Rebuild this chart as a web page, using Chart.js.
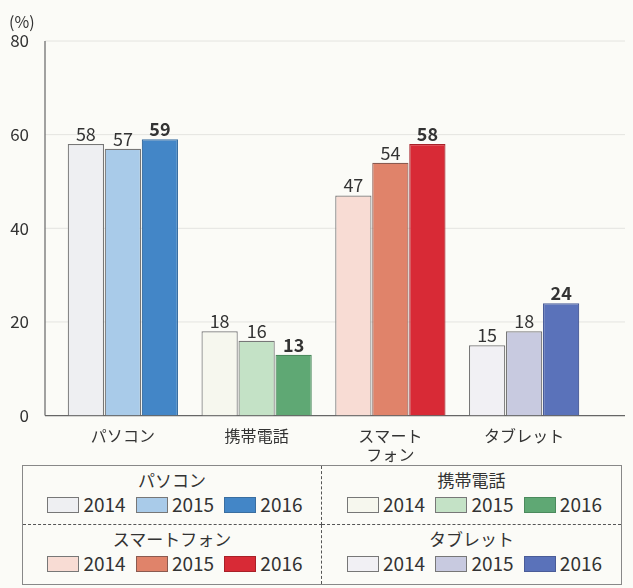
<!DOCTYPE html>
<html>
<head>
<meta charset="utf-8">
<script src="https://cdn.jsdelivr.net/npm/chart.js@4"></script>
<style>
  body { margin: 0; background: #fbfbf7; font-family: "Noto Sans CJK JP", sans-serif; color: #333; }
  #wrap { position: relative; width: 633px; height: 468px; }
  #unit { position: absolute; left: 9px; top: 9px; font-size: 16px; }
  #legend { position: absolute; left: 22px; top: 465px; width: 600px; height: 120px;
    border: 1.5px solid #888; box-sizing: border-box; display: grid;
    grid-template-columns: 1fr 1fr; grid-template-rows: 1fr 1fr; background: #fbfbf7; }
  .cell { text-align: center; padding-top: 2px; }
  .cell.l { border-right: 1.5px dashed #555; }
  .cell.t { border-bottom: 1.5px dashed #555; }
  .ttl { font-size: 17px; line-height: 23px; }
  .row { font-size: 19px; line-height: 25px; white-space: nowrap; }
  .sw { display: inline-block; width: 30px; height: 14px; border: 1px solid #777;
    vertical-align: -1px; margin: 0 4px 0 6px; }
</style>
</head>
<body>
<div id="wrap">
  <div id="unit">(%)</div>
  <canvas id="chart" width="633" height="468"></canvas>
</div>
<div id="legend"></div>
<script>
const categories = [["パソコン"], ["携帯電話"], ["スマート", "フォン"], ["タブレット"]];
const groupNames = ["パソコン", "携帯電話", "スマートフォン", "タブレット"];
const years = ["2014", "2015", "2016"];
const v2014 = [58, 18, 47, 15];
const v2015 = [57, 16, 54, 18];
const v2016 = [59, 13, 58, 24];
const yTicks = [0, 20, 40, 60, 80];

// colours per category, index = year
const colors = [
  ["#eeeff2", "#a9cbe9", "#4386c7"],
  ["#f6f7ee", "#c4e2c6", "#5fa874"],
  ["#f8dcd4", "#e0836a", "#d82a36"],
  ["#f1f0f4", "#c8cae0", "#5a72ba"],
];
const borders = [
  ["#777", "#777", "#3a6ea0"],
  ["#777", "#777", "#4b8a5d"],
  ["#777", "#8a5a50", "#a82028"],
  ["#777", "#777", "#4a5c98"],
];

const series = [v2014, v2015, v2016];

const axisLines = {
  id: "axisLines",
  beforeDatasetsDraw(chart) {
    const ctx = chart.ctx, y = chart.scales.y;
    ctx.save();
    yTicks.forEach(t => {
      const py = y.getPixelForValue(t);
      ctx.strokeStyle = t === 0 ? "#666" : "#e4e4e0";
      ctx.lineWidth = t === 0 ? 1.2 : 1;
      ctx.beginPath();
      ctx.moveTo(45, py);
      ctx.lineTo(625, py);
      ctx.stroke();
    });
    ctx.strokeStyle = "#666";
    ctx.lineWidth = 1.2;
    ctx.beginPath();
    ctx.moveTo(45, y.getPixelForValue(80));
    ctx.lineTo(45, y.getPixelForValue(0));
    ctx.stroke();
    ctx.restore();
  }
};

const valueLabels = {
  id: "valueLabels",
  afterDatasetsDraw(chart) {
    const ctx = chart.ctx;
    ctx.save();
    ctx.fillStyle = "#333";
    ctx.textAlign = "center";
    ctx.textBaseline = "bottom";
    chart.data.datasets.forEach((ds, i) => {
      ctx.font = (i === 2 ? "bold " : "") + "18px 'Noto Sans CJK JP'";
      chart.getDatasetMeta(i).data.forEach((bar, j) => {
        ctx.fillText(ds.data[j], bar.x, bar.y - 1);
      });
    });
    ctx.restore();
  }
};

new Chart(document.getElementById("chart"), {
  type: "bar",
  data: {
    labels: categories,
    datasets: series.map((d, i) => ({
      label: years[i],
      data: d,
      backgroundColor: colors.map(c => c[i]),
      borderColor: borders.map(c => c[i]),
      borderWidth: 1.2,
    })),
  },
  options: {
    responsive: false,
    animation: false,
    layout: { padding: { top: 41, left: 0, right: 42, bottom: 0 } },
    datasets: { bar: { categoryPercentage: 0.83, barPercentage: 0.98 } },
    scales: {
      x: {
        grid: { display: false },
        border: { display: false },
        ticks: { color: "#333", font: { family: "Noto Sans CJK JP", size: 16 }, padding: 3 },
      },
      y: {
        min: 0,
        max: 80,
        afterBuildTicks: s => { s.ticks = yTicks.map(v => ({ value: v })); },
        afterFit: s => { s.width = 56; },
        grid: { display: false },
        border: { display: false },
        ticks: { color: "#333", font: { family: "Noto Sans CJK JP", size: 17 }, padding: 19 },
      },
    },
    plugins: { legend: { display: false }, tooltip: { enabled: false } },
  },
  plugins: [axisLines, valueLabels],
});

// legend box
const legend = document.getElementById("legend");
groupNames.forEach((name, g) => {
  const cell = document.createElement("div");
  cell.className = "cell" + (g % 2 === 0 ? " l" : "") + (g < 2 ? " t" : "");
  let html = '<div class="ttl">' + name + '</div><div class="row">';
  years.forEach((yr, i) => {
    html += '<span class="sw" style="background:' + colors[g][i] + ';border-color:' + borders[g][i] + '"></span>' + yr + ' ';
  });
  cell.innerHTML = html + "</div>";
  legend.appendChild(cell);
});
</script>
</body>
</html>
